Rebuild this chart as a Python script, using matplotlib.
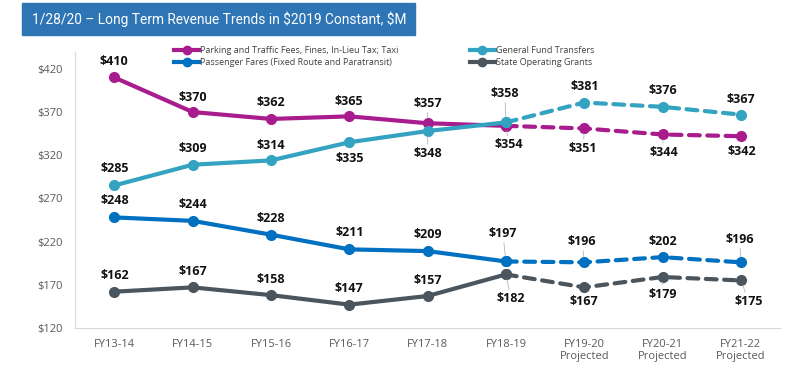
import matplotlib
matplotlib.use("Agg")
import matplotlib.pyplot as plt
from matplotlib.lines import Line2D
from matplotlib.patches import Rectangle
import numpy as np

years = ["FY13-14", "FY14-15", "FY15-16", "FY16-17", "FY17-18", "FY18-19",
         "FY19-20\nProjected", "FY20-21\nProjected", "FY21-22\nProjected"]
parking = [410, 370, 362, 365, 357, 354, 351, 344, 342]
general_fund = [285, 309, 314, 335, 348, 358, 381, 376, 367]
passenger = [248, 244, 228, 211, 209, 197, 196, 202, 196]
state = [162, 167, 158, 147, 157, 182, 167, 179, 175]
yticks = [120, 170, 220, 270, 320, 370, 420]
last_actual = 5  # FY18-19, projections dashed after this

# (name, values, colour, label offsets in px (dx, dy; +dy = down))
series = [
    ("Parking and Traffic Fees, Fines, In-Lieu Tax; Taxi", parking, "#A81C8D",
     [(0, -16), (0, -15), (0, -16), (0, -15), (0, -20), (3, 19), (-1, 20), (1, 18), (1, 15)]),
    ("Passenger Fares (Fixed Route and Paratransit)", passenger, "#0070C0",
     [(0, -17), (0, -16), (0, -16), (0, -17), (0, -17), (-3, -28), (-2, -21), (0, -16), (-1, -23)]),
    ("General Fund Transfers", general_fund, "#33A3C1",
     [(0, -17), (0, -16), (0, -15), (0, 16), (0, 22), (-1, -29), (1, -16), (0, -16), (0, -15)]),
    ("State Operating Grants", state, "#4B555D",
     [(0, -16), (0, -16), (0, -16), (0, -16), (0, -16), (5, 24), (0, 14), (0, 17), (8, 21)]),
]

fig = plt.figure(figsize=(8, 3.71), dpi=100)
ax = fig.add_axes([0.094, 0.116, 0.881, 0.745])

# title banner
fig.patches.append(Rectangle((0.0275, 0.906), 0.491, 0.086, transform=fig.transFigure,
                             color="#2E75B6", zorder=0))
fig.text(0.04, 0.949, "1/28/20 \u2013 Long Term Revenue Trends in \\$2019 Constant, \\$M",
         color="white", fontsize=9.9, va="center", ha="left", family="Roboto")

x = np.arange(len(years))
handles = []
for name, vals, col, offs in series:
    vals = np.array(vals)
    ax.plot(x[:last_actual + 1], vals[:last_actual + 1], color=col, lw=3,
            marker="o", ms=7, zorder=3, solid_capstyle="round")
    ax.plot(x[last_actual:], vals[last_actual:], color=col, lw=3,
            marker="o", ms=7, zorder=3, linestyle=(0, (2.6, 1.8)), dash_capstyle="round")
    for xi, v, (dx, dy) in zip(x, vals, offs):
        arrow = None
        if abs(dy) >= 17:
            arrow = dict(arrowstyle="-", color="#BFBFBF", lw=0.7, shrinkA=0, shrinkB=4)
        ax.annotate(f"${v}", (xi, v), xytext=(dx * 0.72, -dy * 0.72),
                    textcoords="offset points", ha="center", va="center",
                    fontsize=9, fontweight="bold", family="Open Sans", color="#111111",
                    arrowprops=arrow if dy > 0 or abs(dy) >= 18 else None, zorder=4)
    handles.append(Line2D([], [], color=col, lw=3, marker="o", ms=6, label=name))

ax.set_xlim(-0.5, len(years) - 0.5)
ax.set_ylim(120, 440)
ax.set_yticks(yticks)
ax.set_yticklabels([f"${t}" for t in yticks])
ax.set_xticks(x)
ax.set_xticklabels(years, linespacing=1.1)
ax.tick_params(length=0, colors="#595959", labelsize=8)
ax.tick_params(axis="y", pad=9)
ax.tick_params(axis="x", pad=8)
for lbl in ax.get_xticklabels() + ax.get_yticklabels():
    lbl.set_family("Open Sans")
for s in ["top", "right"]:
    ax.spines[s].set_visible(False)
for s in ["left", "bottom"]:
    ax.spines[s].set_color("#D9D9D9")

fig.legend(handles=handles, ncol=2, loc="upper left", bbox_to_anchor=(0.218, 0.876),
           frameon=False, prop={"family": "Open Sans", "size": 6.5},
           handlelength=2.7, handletextpad=0.1, columnspacing=8, labelspacing=0.35,
           borderpad=0, borderaxespad=0, labelcolor="#404040")

fig.savefig("out.png", dpi=100)
